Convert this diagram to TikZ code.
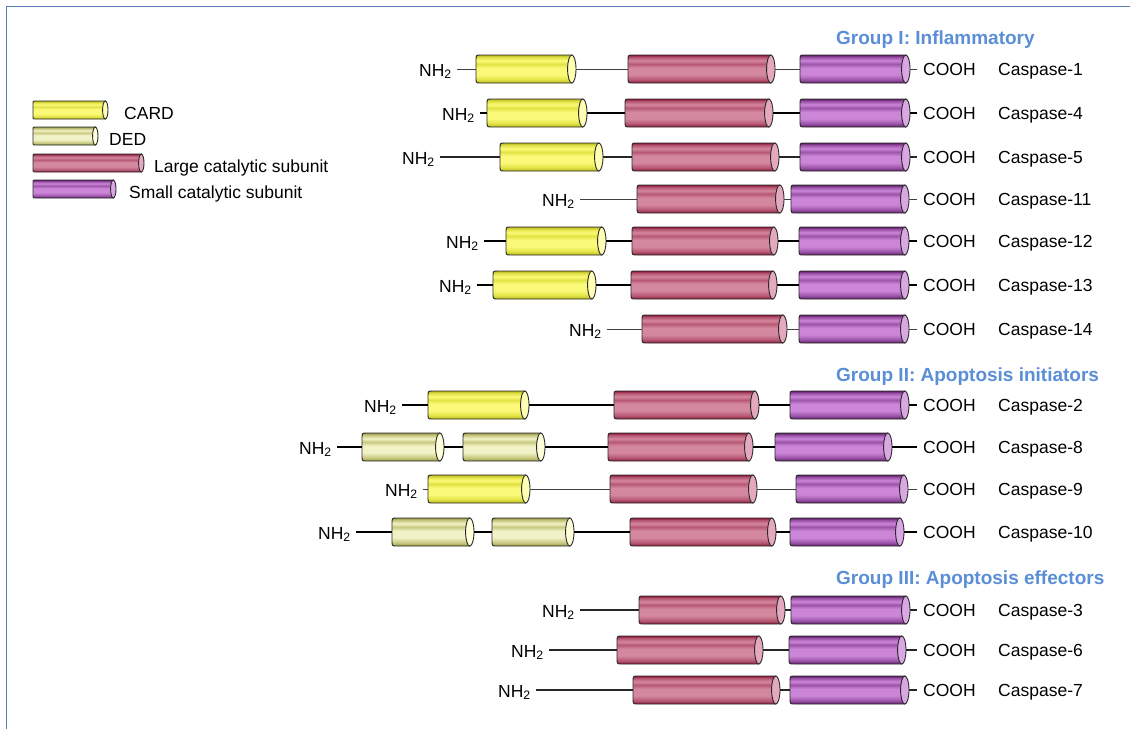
\documentclass[tikz,border=0pt]{standalone}
\usepackage{fontspec}
\setmainfont{Liberation Sans}

% domain colours: dark edge, mid tone, light highlight, end cap
\definecolor{cardD}{HTML}{B4B41E}
\definecolor{cardM}{HTML}{E2E246}
\definecolor{cardL}{HTML}{FAFA78}
\definecolor{cardcap}{HTML}{FFFFB4}
\definecolor{dedD}{HTML}{98984A}
\definecolor{dedM}{HTML}{C8C880}
\definecolor{dedL}{HTML}{F2F2C8}
\definecolor{dedcap}{HTML}{FFFFDA}
\definecolor{largeD}{HTML}{8A1A38}
\definecolor{largeM}{HTML}{B65874}
\definecolor{largeL}{HTML}{D4889F}
\definecolor{largecap}{HTML}{E4A9BE}
\definecolor{smallD}{HTML}{5C2064}
\definecolor{smallM}{HTML}{9C54AA}
\definecolor{smallL}{HTML}{CC86D8}
\definecolor{smallcap}{HTML}{D9A7E2}
\definecolor{edge}{HTML}{2A2A2A}
\definecolor{grpblue}{RGB}{90,142,214}
\definecolor{frame}{RGB}{84,124,184}

% cylinder-like vertical shadings (25bp = bottom, 75bp = top of the path)
\newcommand{\cylshading}[1]{%
  \pgfdeclareverticalshading{#1}{100bp}{color(0bp)=(#1D); color(25bp)=(#1D);
    color(31bp)=(#1M); color(40bp)=(#1L); color(52bp)=(#1L); color(59bp)=(#1M);
    color(65bp)=(#1L); color(71bp)=(#1M); color(75bp)=(#1D); color(100bp)=(#1D)}}
\cylshading{card}
\cylshading{ded}
\cylshading{large}
\cylshading{small}

\newcommand{\lblfont}{\fontsize{17.5}{21}\selectfont}
\newcommand{\grpfont}{\fontsize{19}{23}\selectfont\bfseries}

% \domain[half height]{node name}{family}{left x}{right x}{centre y}
\newcommand{\domain}[6][14]{%
  \node[dombox, minimum height={2*#1}, minimum width={#5-#4}] (#2) at ({(#4+#5)/2},#6) {};
  \shade[shading=#3, draw=edge, line width=0.9pt]
    ({#5-0.3*#1},{#6-#1}) -- ({#4+0.35*#1},{#6-#1})
    .. controls (#4,{#6-#1}) .. (#4,{#6-0.6*#1})
    -- (#4,{#6+0.6*#1})
    .. controls (#4,{#6+#1}) .. ({#4+0.35*#1},{#6+#1})
    -- ({#5-0.3*#1},{#6+#1}) -- cycle;
  \draw[fill=#3cap, draw=edge, line width=0.9pt]
    ({#5-0.3*#1},#6) ellipse [x radius={0.3*#1pt}, y radius={#1pt}];
}

\begin{document}
\begin{tikzpicture}[x=1pt, y=-1pt,
  dombox/.style={rectangle, inner sep=0pt},
  nh/.style={anchor=east, inner xsep=5pt, inner ysep=0pt, text height=14pt, text depth=0pt, font=\lblfont},
  cooh/.style={anchor=west, inner xsep=6pt, inner ysep=0pt, text height=12pt, text depth=0pt, font=\lblfont},
  caslabel/.style={anchor=base west, inner sep=0pt, font=\lblfont},
  legendlabel/.style={anchor=base west, inner sep=0pt, font=\lblfont},
  grp/.style={anchor=base west, inner sep=0pt, font=\grpfont, text=grpblue},
  thinlink/.style={line width=0.8pt, draw=black!75},
  midlink/.style={line width=1.2pt, draw=black!85},
  thicklink/.style={line width=1.8pt, draw=black},
]
\useasboundingbox (0,0) rectangle (1130,729);

% frame along the top and left edges
\draw[frame, line width=1.6pt] (1130,6.5) -- (6.5,6.5) -- (6.5,729);

% ---------- legend ----------
\domain[9]{lgcard}{card}{33}{108}{110}
\domain[9]{lgded}{ded}{33}{98}{136}
\domain[9]{lglarge}{large}{33}{144}{163}
\domain[9]{lgsmall}{small}{33}{116}{189}
\node[legendlabel] (tcard) at (124,119) {CARD};
\node[legendlabel] (tded) at (109,145) {DED};
\node[legendlabel] (tlarge) at (154,172) {Large catalytic subunit};
\node[legendlabel] (tsmall) at (129,198) {Small catalytic subunit};

% ---------- group headers ----------
\node[grp] (g1) at (836,44) {Group I: Inflammatory};
\node[grp] (g2) at (836,381) {Group II: Apoptosis initiators};
\node[grp] (g3) at (836,584) {Group III: Apoptosis effectors};

% ---------- Group I ----------
% Caspase-1
\domain{c1a}{card}{476}{576}{69}
\domain{c1b}{large}{628}{775}{69}
\domain{c1c}{small}{800}{910}{69}
\node[nh] (c1n) at (457,69) {NH\textsubscript{2}};
\node[cooh] (c1o) at (917,69) {COOH};
\node[caslabel] (c1t) at (998,75) {Caspase-1};
\draw[thinlink] (c1n) -- (c1a) (c1a) -- (c1b) (c1b) -- (c1c) (c1c) -- (c1o);

% Caspase-4
\domain{c4a}{card}{487}{587}{113}
\domain{c4b}{large}{625}{773}{113}
\domain{c4c}{small}{800}{910}{113}
\node[nh] (c4n) at (480,113) {NH\textsubscript{2}};
\node[cooh] (c4o) at (917,113) {COOH};
\node[caslabel] (c4t) at (998,119) {Caspase-4};
\draw[thicklink] (c4n) -- (c4a) (c4a) -- (c4b) (c4b) -- (c4c) (c4c) -- (c4o);

% Caspase-5
\domain{c5a}{card}{500}{603}{157}
\domain{c5b}{large}{632}{779}{157}
\domain{c5c}{small}{800}{910}{157}
\node[nh] (c5n) at (440,157) {NH\textsubscript{2}};
\node[cooh] (c5o) at (917,157) {COOH};
\node[caslabel] (c5t) at (998,163) {Caspase-5};
\draw[midlink] (c5n) -- (c5a) (c5a) -- (c5b) (c5b) -- (c5c) (c5c) -- (c5o);

% Caspase-11
\domain{c11b}{large}{637}{784}{199}
\domain{c11c}{small}{791}{909}{199}
\node[nh] (c11n) at (580,199) {NH\textsubscript{2}};
\node[cooh] (c11o) at (917,199) {COOH};
\node[caslabel] (c11t) at (998,205) {Caspase-11};
\draw[thinlink] (c11n) -- (c11b) (c11b) -- (c11c) (c11c) -- (c11o);

% Caspase-12
\domain{c12a}{card}{506}{606}{241}
\domain{c12b}{large}{632}{778}{241}
\domain{c12c}{small}{799}{909}{241}
\node[nh] (c12n) at (484,241) {NH\textsubscript{2}};
\node[cooh] (c12o) at (917,241) {COOH};
\node[caslabel] (c12t) at (998,247) {Caspase-12};
\draw[thicklink] (c12n) -- (c12a) (c12a) -- (c12b) (c12b) -- (c12c) (c12c) -- (c12o);

% Caspase-13
\domain{c13a}{card}{493}{596}{285}
\domain{c13b}{large}{631}{777}{285}
\domain{c13c}{small}{799}{909}{285}
\node[nh] (c13n) at (477,285) {NH\textsubscript{2}};
\node[cooh] (c13o) at (917,285) {COOH};
\node[caslabel] (c13t) at (998,291) {Caspase-13};
\draw[thicklink] (c13n) -- (c13a) (c13a) -- (c13b) (c13b) -- (c13c) (c13c) -- (c13o);

% Caspase-14
\domain{c14b}{large}{642}{787}{329}
\domain{c14c}{small}{799}{909}{329}
\node[nh] (c14n) at (607,329) {NH\textsubscript{2}};
\node[cooh] (c14o) at (917,329) {COOH};
\node[caslabel] (c14t) at (998,335) {Caspase-14};
\draw[thinlink] (c14n) -- (c14b) (c14b) -- (c14c) (c14c) -- (c14o);

% ---------- Group II ----------
% Caspase-2
\domain{c2a}{card}{428}{529}{405}
\domain{c2b}{large}{614}{759}{405}
\domain{c2c}{small}{790}{909}{405}
\node[nh] (c2n) at (402,405) {NH\textsubscript{2}};
\node[cooh] (c2o) at (917,405) {COOH};
\node[caslabel] (c2t) at (998,411) {Caspase-2};
\draw[thicklink] (c2n) -- (c2a) (c2a) -- (c2b) (c2b) -- (c2c) (c2c) -- (c2o);

% Caspase-8
\domain{c8a}{ded}{362}{444}{447}
\domain{c8d}{ded}{463}{545}{447}
\domain{c8b}{large}{608}{753}{447}
\domain{c8c}{small}{775}{892}{447}
\node[nh] (c8n) at (337,447) {NH\textsubscript{2}};
\node[cooh] (c8o) at (917,447) {COOH};
\node[caslabel] (c8t) at (998,453) {Caspase-8};
\draw[thicklink] (c8n) -- (c8a) (c8a) -- (c8d) (c8d) -- (c8b) (c8b) -- (c8c) (c8c) -- (c8o);

% Caspase-9
\domain{c9a}{card}{428}{530}{489}
\domain{c9b}{large}{610}{757}{489}
\domain{c9c}{small}{796}{908}{489}
\node[nh] (c9n) at (423,489) {NH\textsubscript{2}};
\node[cooh] (c9o) at (917,489) {COOH};
\node[caslabel] (c9t) at (998,495) {Caspase-9};
\draw[thinlink] (c9n) -- (c9a) (c9a) -- (c9b) (c9b) -- (c9c) (c9c) -- (c9o);

% Caspase-10
\domain{c10a}{ded}{392}{474}{532}
\domain{c10d}{ded}{492}{574}{532}
\domain{c10b}{large}{630}{776}{532}
\domain{c10c}{small}{790}{904}{532}
\node[nh] (c10n) at (356,532) {NH\textsubscript{2}};
\node[cooh] (c10o) at (917,532) {COOH};
\node[caslabel] (c10t) at (998,538) {Caspase-10};
\draw[thicklink] (c10n) -- (c10a) (c10a) -- (c10d) (c10d) -- (c10b) (c10b) -- (c10c) (c10c) -- (c10o);

% ---------- Group III ----------
% Caspase-3
\domain{c3b}{large}{639}{785}{610}
\domain{c3c}{small}{791}{910}{610}
\node[nh] (c3n) at (580,610) {NH\textsubscript{2}};
\node[cooh] (c3o) at (917,610) {COOH};
\node[caslabel] (c3t) at (998,616) {Caspase-3};
\draw[midlink] (c3n) -- (c3b) (c3b) -- (c3c) (c3c) -- (c3o);

% Caspase-6
\domain{c6b}{large}{617}{763}{650}
\domain{c6c}{small}{789}{906}{650}
\node[nh] (c6n) at (549,650) {NH\textsubscript{2}};
\node[cooh] (c6o) at (917,650) {COOH};
\node[caslabel] (c6t) at (998,656) {Caspase-6};
\draw[midlink] (c6n) -- (c6b) (c6b) -- (c6c) (c6c) -- (c6o);

% Caspase-7
\domain{c7b}{large}{633}{780}{690}
\domain{c7c}{small}{790}{909}{690}
\node[nh] (c7n) at (536,690) {NH\textsubscript{2}};
\node[cooh] (c7o) at (917,690) {COOH};
\node[caslabel] (c7t) at (998,696) {Caspase-7};
\draw[midlink] (c7n) -- (c7b) (c7b) -- (c7c) (c7c) -- (c7o);

\end{tikzpicture}
\end{document}
